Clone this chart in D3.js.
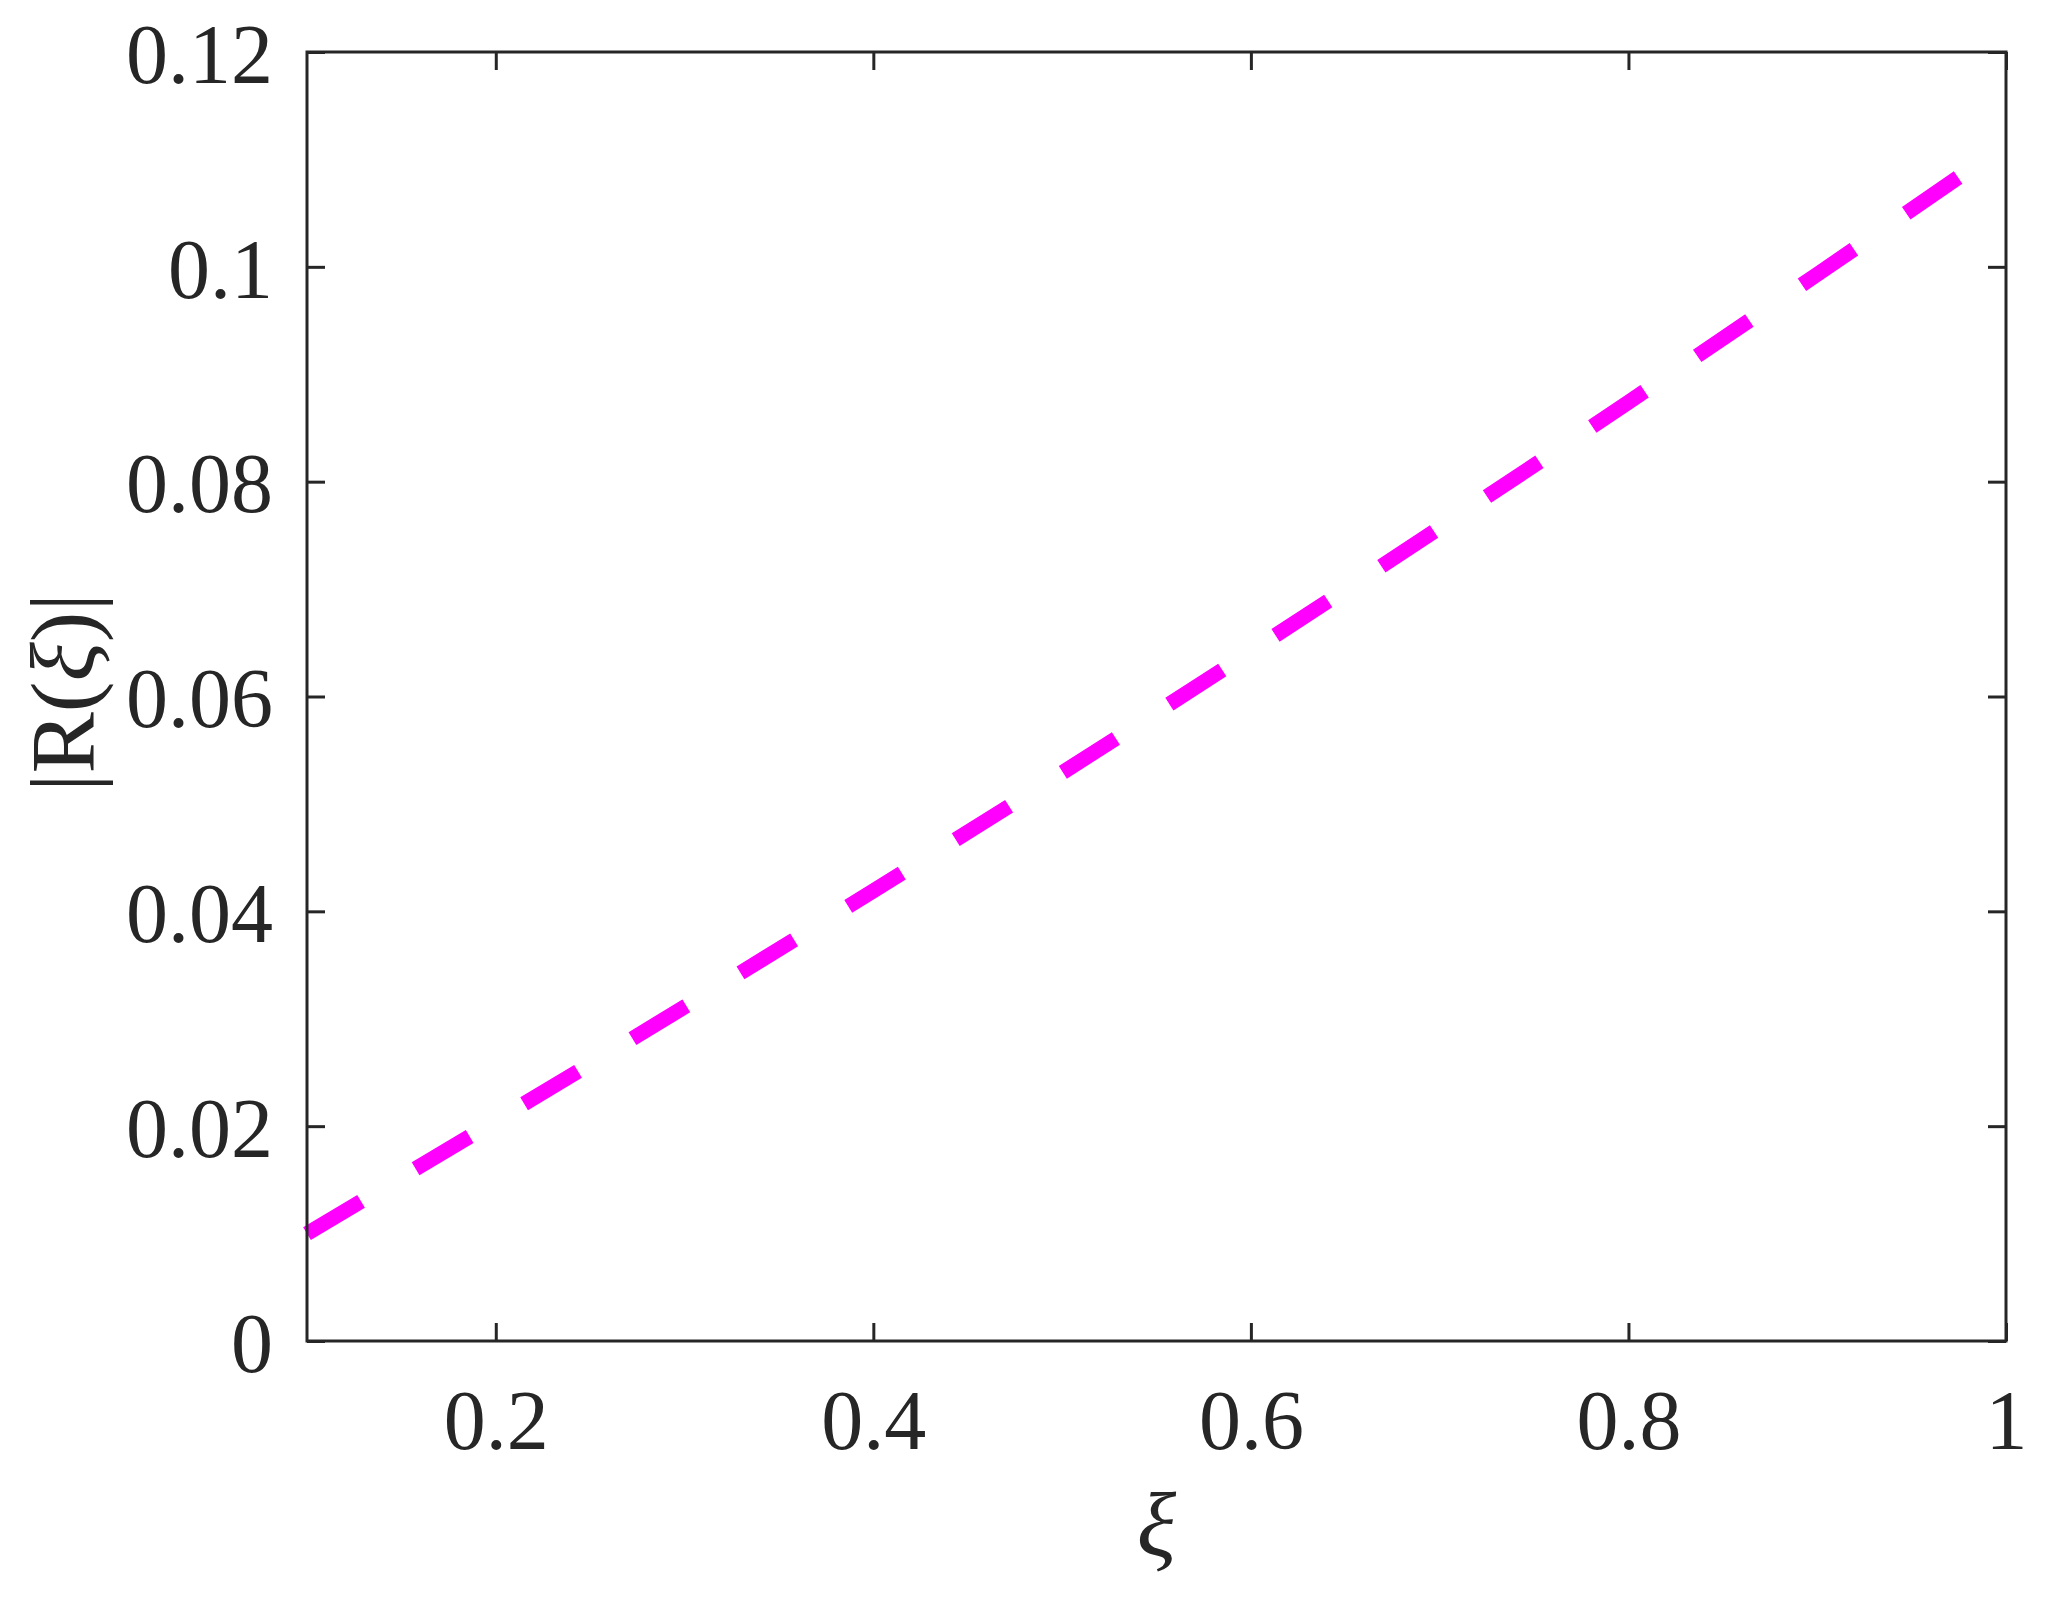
<!DOCTYPE html>
<html>
<head>
<meta charset="utf-8">
<script src="https://cdn.jsdelivr.net/npm/d3@7"></script>
<style>
  body { margin: 0; background: #fff; }
  text { font-family: "Liberation Serif", "Times New Roman", serif; fill: #262626; }
</style>
</head>
<body>
<script>
// data
var xi = [0.1, 0.2, 0.3, 0.4, 0.5, 0.6, 0.7, 0.8, 0.9, 1.0];
var absR = [0.0100, 0.0205, 0.0311, 0.0419, 0.0529, 0.0642, 0.0757, 0.0874, 0.0993, 0.1114];

var xTicks = [0.2, 0.4, 0.6, 0.8, 1];
var xTickLabels = ["0.2", "0.4", "0.6", "0.8", "1"];
var yTicks = [0, 0.02, 0.04, 0.06, 0.08, 0.1, 0.12];
var yTickLabels = ["0", "0.02", "0.04", "0.06", "0.08", "0.1", "0.12"];

var width = 2047, height = 1602;
var margin = {left: 307, top: 52, right: 41, bottom: 261};
var w = width - margin.left - margin.right;
var h = height - margin.top - margin.bottom;
var ink = "#262626";

var svg = d3.select("body")
    .append("svg")
    .attr("width", width)
    .attr("height", height);

var g = svg.append("g")
    .attr("transform", "translate(" + margin.left + "," + margin.top + ")");

// scales
var xScale = d3.scaleLinear().domain([0.1, 1]).range([0, w]);
var yScale = d3.scaleLinear().domain([0, 0.12]).range([h, 0]);

// the curve
var line = d3.line()
    .x(function(d, i) { return xScale(xi[i]); })
    .y(function(d) { return yScale(d); })
    .curve(d3.curveMonotoneX);

g.append("path")
    .datum(absR)
    .attr("fill", "none")
    .attr("stroke", "#ff00ff")
    .attr("stroke-width", 15)
    .attr("stroke-dasharray", "63,63.5")
    .attr("d", line);

// axes (ticks pointing inward, mirrored on top / right)
function styleAxis(sel) {
    sel.select(".domain").remove();
    sel.selectAll(".tick line").attr("stroke", ink).attr("stroke-width", 3);
}

var xAxis = g.append("g")
    .attr("transform", "translate(0," + h + ")")
    .call(d3.axisBottom(xScale).tickValues(xTicks)
        .tickFormat(function(d, i) { return xTickLabels[i]; })
        .tickSizeInner(-18).tickSizeOuter(0));
styleAxis(xAxis);
xAxis.selectAll(".tick text")
    .attr("y", 108).attr("dy", 0)
    .style("font-size", "84px").attr("fill", ink);

var yAxis = g.append("g")
    .call(d3.axisLeft(yScale).tickValues(yTicks)
        .tickFormat(function(d, i) { return yTickLabels[i]; })
        .tickSizeInner(-18).tickSizeOuter(0));
styleAxis(yAxis);
yAxis.selectAll(".tick text")
    .attr("x", -34).attr("dy", "0.36em")
    .style("font-size", "84px").attr("fill", ink);

var xTop = g.append("g")
    .call(d3.axisTop(xScale).tickValues(xTicks).tickFormat("")
        .tickSizeInner(-18).tickSizeOuter(0));
styleAxis(xTop);

var yRight = g.append("g")
    .attr("transform", "translate(" + w + ",0)")
    .call(d3.axisRight(yScale).tickValues(yTicks).tickFormat("")
        .tickSizeInner(-18).tickSizeOuter(0));
styleAxis(yRight);

// box
g.append("rect")
    .attr("x", 0).attr("y", 0)
    .attr("width", w).attr("height", h)
    .attr("fill", "none")
    .attr("stroke", ink)
    .attr("stroke-width", 3);

// labels
g.append("text")
    .attr("x", w / 2)
    .attr("y", h + 215)
    .attr("text-anchor", "middle")
    .style("font-size", "92px")
    .style("font-style", "italic")
    .text("ξ");

var yl = svg.append("text")
    .attr("transform", "translate(94," + (margin.top + h / 2 - 4) + ") rotate(-90)")
    .attr("text-anchor", "middle")
    .style("font-size", "92px");
yl.append("tspan").text("|R(");
yl.append("tspan").style("font-style", "italic").text("ξ");
yl.append("tspan").text(")|");
</script>
</body>
</html>
